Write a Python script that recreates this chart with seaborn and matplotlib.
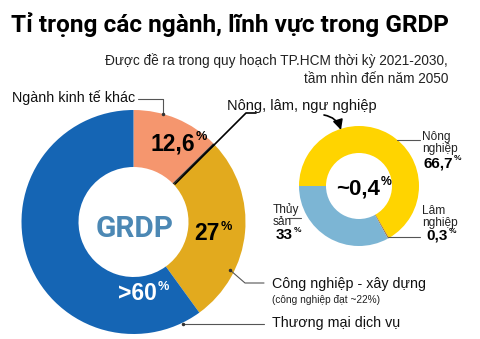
import matplotlib
matplotlib.use("Agg")
import matplotlib.pyplot as plt
import seaborn as sns

sns.set_theme(style="white")
plt.rcParams['font.family'] = ['Liberation Sans', 'DejaVu Sans']

# ---- data ----
title = "Tỉ trọng các ngành, lĩnh vực trong GRDP"
subtitle = ["Được đề ra trong quy hoạch TP.HCM thời kỳ 2021-2030,", "tầm nhìn đến năm 2050"]

grdp_labels = ["Ngành kinh tế khác", "Nông, lâm, ngư nghiệp", "Công nghiệp - xây dựng", "Thương mại dịch vụ"]
grdp_values = [12.6, 0.4, 27.0, 60.0]
grdp_texts = ["12,6", "", "27", ">60"]
grdp_note = "(công nghiệp đạt ~22%)"

agri_labels = ["Nông\nnghiệp", "Lâm\nnghiệp", "Thủy\nsản"]
agri_values = [66.7, 0.3, 33.0]
agri_texts = ["66,7", "0,3", "33"]
agri_center = "~0,4"

grdp_colors = ["#F5966E", "#2a2a2a", "#E2AA1E", "#1565B4"]
agri_colors = ["#FFD400", "#9A6A3A", "#7CB5D4"]

W, H = 480, 339
fig = plt.figure(figsize=(W / 100, H / 100), dpi=100)
ax = fig.add_axes([0, 0, 1, 1])

def Y(y):
    return H - y

# big donut
ax.pie(grdp_values, colors=grdp_colors, startangle=90, counterclock=False,
       radius=112, center=(133.5, Y(222)),
       wedgeprops=dict(width=57, edgecolor='none', linewidth=0))
# small donut
ax.pie(agri_values, colors=agri_colors, startangle=180, counterclock=False,
       radius=60, center=(359, Y(186)),
       wedgeprops=dict(width=27, edgecolor='none', linewidth=0))

ax.set_xlim(0, W)
ax.set_ylim(0, H)
ax.set_aspect('equal')
ax.axis('off')

BOLD = ['Liberation Sans', 'DejaVu Sans']
HEAD = ['Roboto', 'Liberation Sans', 'DejaVu Sans']

def pct(xr, base, num, size, color='black'):
    ax.text(xr, Y(base), num, ha='right', va='baseline', fontsize=size,
            fontweight='bold', color=color, family=BOLD)
    ax.text(xr + 0.5, Y(base) + size * 0.62, '%', ha='left', va='baseline',
            fontsize=size * 0.55, fontweight='bold', color=color, family=BOLD)

# title & subtitle
ax.text(11, Y(32), title, ha='left', va='baseline', fontsize=17.6,
        fontweight='bold', color='black', family=HEAD)
ax.text(448, Y(65), subtitle[0], ha='right', va='baseline', fontsize=9.8, color='#222222')
ax.text(448, Y(83), subtitle[1], ha='right', va='baseline', fontsize=9.8, color='#222222')

# GRDP center
ax.text(135, Y(237), "GRDP", ha='center', va='baseline', fontsize=21.5,
        fontweight='bold', color='#4C88B4', family=HEAD)

# big donut values
pct(195, 150, grdp_texts[0], 16.5)
pct(220, 240, grdp_texts[2], 16.5)
pct(157, 300, grdp_texts[3], 16.5, color='white')

# small donut center
pct(380, 195, agri_center, 16)

# labels big donut
lab_fs = 10.3
ax.text(12, Y(102), grdp_labels[0], ha='left', va='baseline', fontsize=lab_fs, color='#111111')
ax.plot([138, 163, 163], [Y(99), Y(99), Y(114)], color='#555555', lw=0.8)
ax.plot([163], [Y(114)], marker='o', ms=1.5, color='#333333')

ax.text(227, Y(110), grdp_labels[1], ha='left', va='baseline', fontsize=10.5, color='#111111')
ax.plot([175, 246, 256], [Y(184), Y(113), Y(113)], color='black', lw=1.2)
ax.annotate("", xy=(341, Y(130)), xytext=(324, Y(115)),
            arrowprops=dict(arrowstyle='-|>,head_length=0.5,head_width=0.25', color='black',
                            lw=1.2, connectionstyle='arc3,rad=-0.3', shrinkA=0, shrinkB=0))

ax.text(272, Y(288), grdp_labels[2], ha='left', va='baseline', fontsize=lab_fs, color='#111111')
ax.text(272, Y(303), grdp_note, ha='left', va='baseline', fontsize=7.3, color='#222222')
ax.plot([230, 245, 264], [Y(270), Y(283), Y(283)], color='#555555', lw=0.8)
ax.plot([230], [Y(270)], marker='o', ms=1.5, color='#333333')

ax.text(272, Y(327), grdp_labels[3], ha='left', va='baseline', fontsize=lab_fs, color='#111111')
ax.plot([183, 264], [Y(324), Y(324)], color='#555555', lw=0.8)
ax.plot([183], [Y(324)], marker='o', ms=1.5, color='#333333')

# labels small donut
sfs = 8.6
ax.text(422, Y(152), agri_labels[0], ha='left', va='baseline', fontsize=sfs,
        color='#222222', linespacing=0.95)
pct(453, 167, agri_texts[0], 11)
ax.plot([397, 420], [Y(140), Y(140)], color='#555555', lw=0.8)

ax.text(422, Y(226), agri_labels[1], ha='left', va='baseline', fontsize=sfs,
        color='#222222', linespacing=0.95)
pct(448, 240, agri_texts[1], 11)
ax.plot([388, 420], [Y(237), Y(237)], color='#555555', lw=0.8)

ax.text(273, Y(225), agri_labels[2], ha='left', va='baseline', fontsize=sfs,
        color='#222222', linespacing=0.95)
pct(293, 239, agri_texts[2], 11)
ax.plot([289, 301], [Y(218), Y(218)], color='#555555', lw=0.8)

fig.savefig("out.png", dpi=100, facecolor='white')
